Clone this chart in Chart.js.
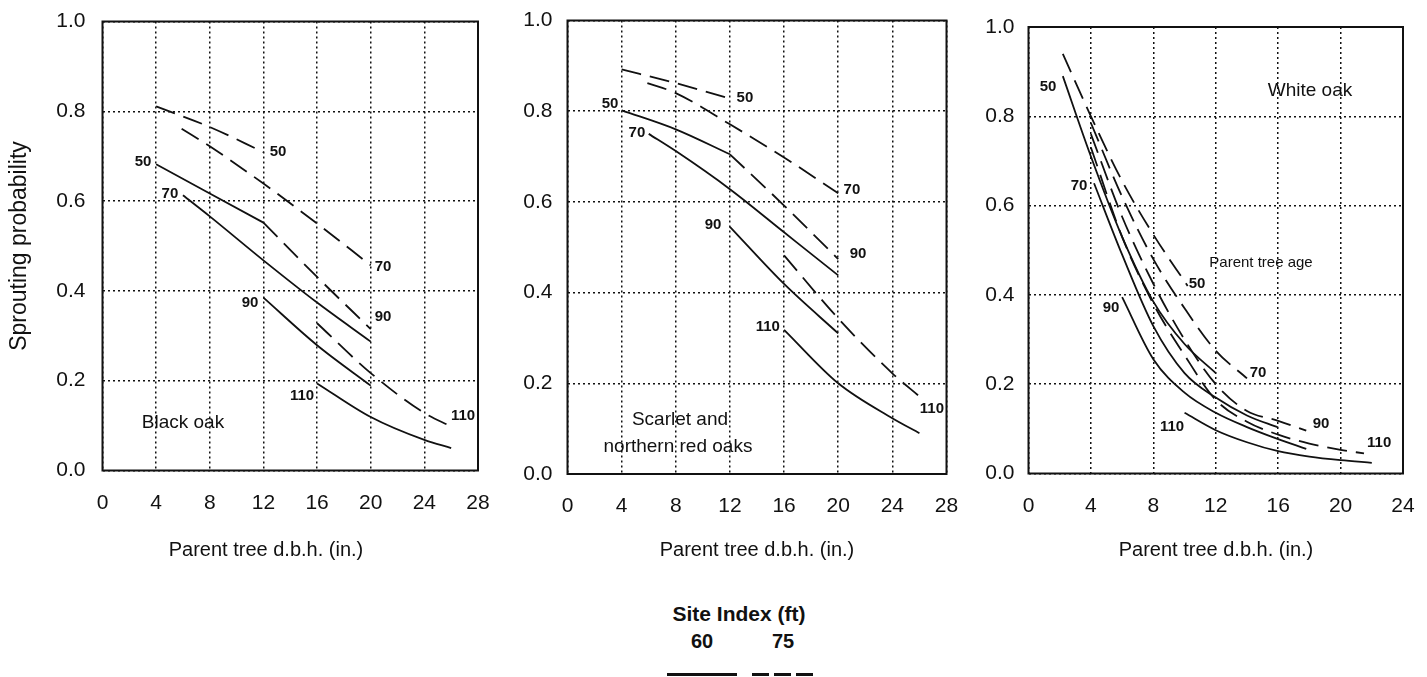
<!DOCTYPE html>
<html>
<head>
<meta charset="utf-8">
<title>Sprouting probability by parent tree d.b.h.</title>
<script src="https://cdn.jsdelivr.net/npm/chart.js@4.4.1/dist/chart.umd.min.js"></script>
<style>
  html, body { margin: 0; padding: 0; background: #fff; }
  body { width: 1427px; height: 677px; position: relative; overflow: hidden;
         font-family: "Liberation Sans", Arial, sans-serif; color: #111; }
  canvas { position: absolute; top: 0; }
  .txt { position: absolute; transform: translate(-50%, -50%); white-space: nowrap; }
  .xtitle { font-size: 20px; }
  .legend-title { font-size: 21px; font-weight: bold; }
  .legend-num { font-size: 20px; font-weight: bold; }
  .swatch { position: absolute; height: 3px; }
  .swatch.solid { background: #111; }
  .swatch.dashed { background: repeating-linear-gradient(to right, #111 0 17px, transparent 17px 22px); }
</style>
</head>
<body>
<canvas id="blackOak" width="490" height="580" style="left:0px"></canvas>
<canvas id="redOak" width="480" height="580" style="left:490px"></canvas>
<canvas id="whiteOak" width="457" height="580" style="left:970px"></canvas>

<div class="txt xtitle" style="left:266px; top:549px">Parent tree d.b.h. (in.)</div>
<div class="txt xtitle" style="left:757px; top:549px">Parent tree d.b.h. (in.)</div>
<div class="txt xtitle" style="left:1216px; top:549px">Parent tree d.b.h. (in.)</div>

<div class="txt legend-title" style="left:739px; top:614px">Site Index (ft)</div>
<div class="txt legend-num" style="left:702px; top:641px">60</div>
<div class="txt legend-num" style="left:783px; top:641px">75</div>
<div class="swatch solid" style="left:667px; top:673px; width:70px"></div>
<div class="swatch dashed" style="left:752px; top:673px; width:62px"></div>

<script>
// ticks
const dbhTicks28 = [0, 4, 8, 12, 16, 20, 24, 28];
const dbhTicks24 = [0, 4, 8, 12, 16, 20, 24];
const probTicks = [0, 0.2, 0.4, 0.6, 0.8, 1.0];
const ages = [50, 70, 90, 110];

// Black oak, [dbh, probability]; site index 60 = solid, 75 = dashed
const black60_50 = [[4, 0.682], [8, 0.617], [12, 0.552]];
const black60_70 = [[6, 0.613], [8, 0.566], [12, 0.468], [16, 0.374], [20, 0.287]];
const black60_90 = [[12, 0.385], [16, 0.279], [20, 0.189]];
const black60_110 = [[16, 0.194], [20, 0.119], [24, 0.068], [26, 0.05]];
const black75_50 = [[4, 0.811], [8, 0.765], [12, 0.709]];
const black75_70 = [[5.9, 0.761], [8, 0.722], [12, 0.639], [16, 0.55], [20, 0.457]];
const black75_90 = [[12, 0.552], [16, 0.431], [20, 0.315]];
const black75_110 = [[16, 0.328], [20, 0.217], [24, 0.128], [26, 0.098]];

// Scarlet and northern red oaks
const red60_50 = [[4, 0.802], [8, 0.76], [12, 0.705]];
const red60_70 = [[6, 0.75], [8, 0.712], [12, 0.628], [16, 0.533], [20, 0.438]];
const red60_90 = [[12, 0.545], [16, 0.419], [20, 0.31]];
const red60_110 = [[16, 0.318], [20, 0.2], [24, 0.123], [26, 0.09]];
const red75_50 = [[4, 0.892], [8, 0.862], [12, 0.828]];
const red75_70 = [[5.9, 0.862], [8, 0.84], [12, 0.771], [16, 0.698], [20, 0.619]];
const red75_90 = [[12, 0.705], [16, 0.592], [20, 0.474]];
const red75_110 = [[16, 0.482], [20, 0.343], [24, 0.222], [26, 0.171]];

// White oak
const white60_50 = [[2.2, 0.89], [4, 0.71], [6, 0.53], [8, 0.385], [10, 0.29], [12, 0.225]];
const white60_70 = [[4.2, 0.65], [6, 0.49], [8, 0.33], [10, 0.225], [12, 0.17], [14, 0.13], [16, 0.103]];
const white60_90 = [[6, 0.395], [8, 0.256], [10, 0.181], [12, 0.136], [14, 0.104], [16, 0.077], [17.8, 0.055]];
const white60_110 = [[10, 0.136], [12, 0.097], [14, 0.07], [16, 0.05], [18, 0.038], [20, 0.03], [22, 0.024]];
const white75_50 = [[2.2, 0.94], [4, 0.8], [6, 0.655], [8, 0.535], [10.2, 0.42]];
const white75_70 = [[4, 0.785], [6, 0.62], [8, 0.48], [10, 0.37], [12, 0.275], [14, 0.213]];
const white75_90 = [[4, 0.76], [6, 0.575], [8, 0.425], [10, 0.3], [12, 0.2], [14, 0.14], [16, 0.118], [17.8, 0.096]];
const white75_110 = [[4, 0.73], [6, 0.53], [8, 0.38], [10, 0.265], [12, 0.165], [14, 0.116], [16, 0.087], [18, 0.067], [20, 0.053], [21.5, 0.045]];

// curve labels and panel names, anchored in data units
const numFont = 'bold 15px "Liberation Sans", Arial, sans-serif';
const nameFont = '19px "Liberation Sans", Arial, sans-serif';
const blackLabels = [
  { x: 13.09, y: 0.709, text: '50', font: numFont },
  { x: 20.92, y: 0.453, text: '70', font: numFont },
  { x: 20.92, y: 0.342, text: '90', font: numFont },
  { x: 26.88, y: 0.121, text: '110', font: numFont },
  { x: 3.02, y: 0.687, text: '50', font: numFont },
  { x: 5.03, y: 0.616, text: '70', font: numFont },
  { x: 11.0, y: 0.373, text: '90', font: numFont },
  { x: 14.88, y: 0.166, text: '110', font: numFont },
  { x: 6.0, y: 0.106, text: 'Black oak', font: nameFont }
];
const redLabels = [
  { x: 13.11, y: 0.829, text: '50', font: numFont },
  { x: 21.01, y: 0.626, text: '70', font: numFont },
  { x: 21.46, y: 0.485, text: '90', font: numFont },
  { x: 26.92, y: 0.143, text: '110', font: numFont },
  { x: 3.14, y: 0.817, text: '50', font: numFont },
  { x: 5.13, y: 0.752, text: '70', font: numFont },
  { x: 10.75, y: 0.549, text: '90', font: numFont },
  { x: 14.8, y: 0.324, text: '110', font: numFont },
  { x: 8.31, y: 0.119, text: 'Scarlet and', font: nameFont },
  { x: 8.16, y: 0.06, text: 'northern red oaks', font: nameFont }
];
const whiteLabels = [
  { x: 10.8, y: 0.424, text: '50', font: numFont },
  { x: 14.71, y: 0.225, text: '70', font: numFont },
  { x: 18.75, y: 0.111, text: '90', font: numFont },
  { x: 22.47, y: 0.068, text: '110', font: numFont },
  { x: 1.25, y: 0.865, text: '50', font: numFont },
  { x: 3.24, y: 0.645, text: '70', font: numFont },
  { x: 5.29, y: 0.37, text: '90', font: numFont },
  { x: 9.2, y: 0.104, text: '110', font: numFont },
  { x: 18.04, y: 0.858, text: 'White oak', font: nameFont },
  { x: 14.9, y: 0.471, text: 'Parent tree age', font: '15px "Liberation Sans", Arial, sans-serif' }
];

Chart.defaults.font.family = '"Liberation Sans", Arial, sans-serif';
Chart.defaults.color = '#111';

// black frame round the plot area
const frame = {
  id: 'frame',
  afterDraw(chart) {
    const { ctx, chartArea: a } = chart;
    ctx.save();
    ctx.strokeStyle = '#111';
    ctx.lineWidth = 2;
    ctx.strokeRect(a.left, a.top, a.right - a.left, a.bottom - a.top);
    ctx.restore();
  }
};

function labelPlugin(items) {
  return {
    id: 'curveLabels',
    afterDatasetsDraw(chart) {
      const { ctx, scales: { x, y } } = chart;
      ctx.save();
      ctx.fillStyle = '#111';
      ctx.textAlign = 'center';
      ctx.textBaseline = 'middle';
      items.forEach(it => {
        ctx.font = it.font;
        ctx.fillText(it.text, x.getPixelForValue(it.x), y.getPixelForValue(it.y));
      });
      ctx.restore();
    }
  };
}

function toPoints(arr) {
  return arr.map(p => ({ x: p[0], y: p[1] }));
}

// fixed axis box, no extra room reserved for edge labels
function fixBox(s, w, h) {
  if (w != null) s.width = w;
  if (h != null) s.height = h;
  s.paddingLeft = 0; s.paddingRight = 0; s.paddingTop = 0; s.paddingBottom = 0;
}

function makeChart(id, solid, dashed, xTicks, area, labels, yTitle) {
  const datasets = [];
  solid.forEach((s, i) => datasets.push({
    label: 'SI 60, age ' + ages[i], data: toPoints(s),
    borderColor: '#111', borderWidth: 1.8, pointRadius: 0, cubicInterpolationMode: 'monotone'
  }));
  dashed.forEach((s, i) => datasets.push({
    label: 'SI 75, age ' + ages[i], data: toPoints(s),
    borderColor: '#111', borderWidth: 1.8, borderDash: [20, 9], pointRadius: 0, cubicInterpolationMode: 'monotone'
  }));

  return new Chart(document.getElementById(id), {
    type: 'line',
    data: { datasets },
    options: {
      responsive: false,
      animation: false,
      devicePixelRatio: 1,
      layout: { padding: { left: 0, top: area.top, right: area.right, bottom: 0 } },
      plugins: { legend: { display: false }, tooltip: { enabled: false } },
      scales: {
        x: {
          type: 'linear', min: 0, max: xTicks[xTicks.length - 1],
          afterBuildTicks: s => { s.ticks = xTicks.map(v => ({ value: v })); },
          afterFit: s => fixBox(s, null, area.xHeight),
          ticks: { font: { size: 21 }, padding: 20, maxRotation: 0, color: '#111' },
          grid: { color: '#111', lineWidth: 1.5, drawTicks: false },
          border: { display: false, dash: [2, 3] }
        },
        y: {
          type: 'linear', min: 0, max: 1,
          afterBuildTicks: s => { s.ticks = probTicks.map(v => ({ value: v })); },
          afterFit: s => fixBox(s, area.yWidth, null),
          ticks: { font: { size: 21 }, padding: area.yPad, color: '#111', callback: v => v.toFixed(1) },
          grid: { color: '#111', lineWidth: 1.5, drawTicks: false },
          border: { display: false, dash: [2, 3] },
          title: {
            display: !!yTitle, text: yTitle || '', color: '#111',
            font: { size: 23 }, padding: { top: 6, bottom: 0 }
          }
        }
      }
    },
    plugins: [frame, labelPlugin(labels)]
  });
}

makeChart('blackOak',
  [black60_50, black60_70, black60_90, black60_110],
  [black75_50, black75_70, black75_90, black75_110],
  dbhTicks28, { top: 21.5, right: 12, xHeight: 109.5, yWidth: 102.5, yPad: 17 },
  blackLabels, 'Sprouting probability');

makeChart('redOak',
  [red60_50, red60_70, red60_90, red60_110],
  [red75_50, red75_70, red75_90, red75_110],
  dbhTicks28, { top: 20.5, right: 23.5, xHeight: 106, yWidth: 77.5, yPad: 15 },
  redLabels, null);

makeChart('whiteOak',
  [white60_50, white60_70, white60_90, white60_110],
  [white75_50, white75_70, white75_90, white75_110],
  dbhTicks24, { top: 27, right: 24, xHeight: 106.5, yWidth: 58.5, yPad: 14 },
  whiteLabels, null);
</script>
</body>
</html>
